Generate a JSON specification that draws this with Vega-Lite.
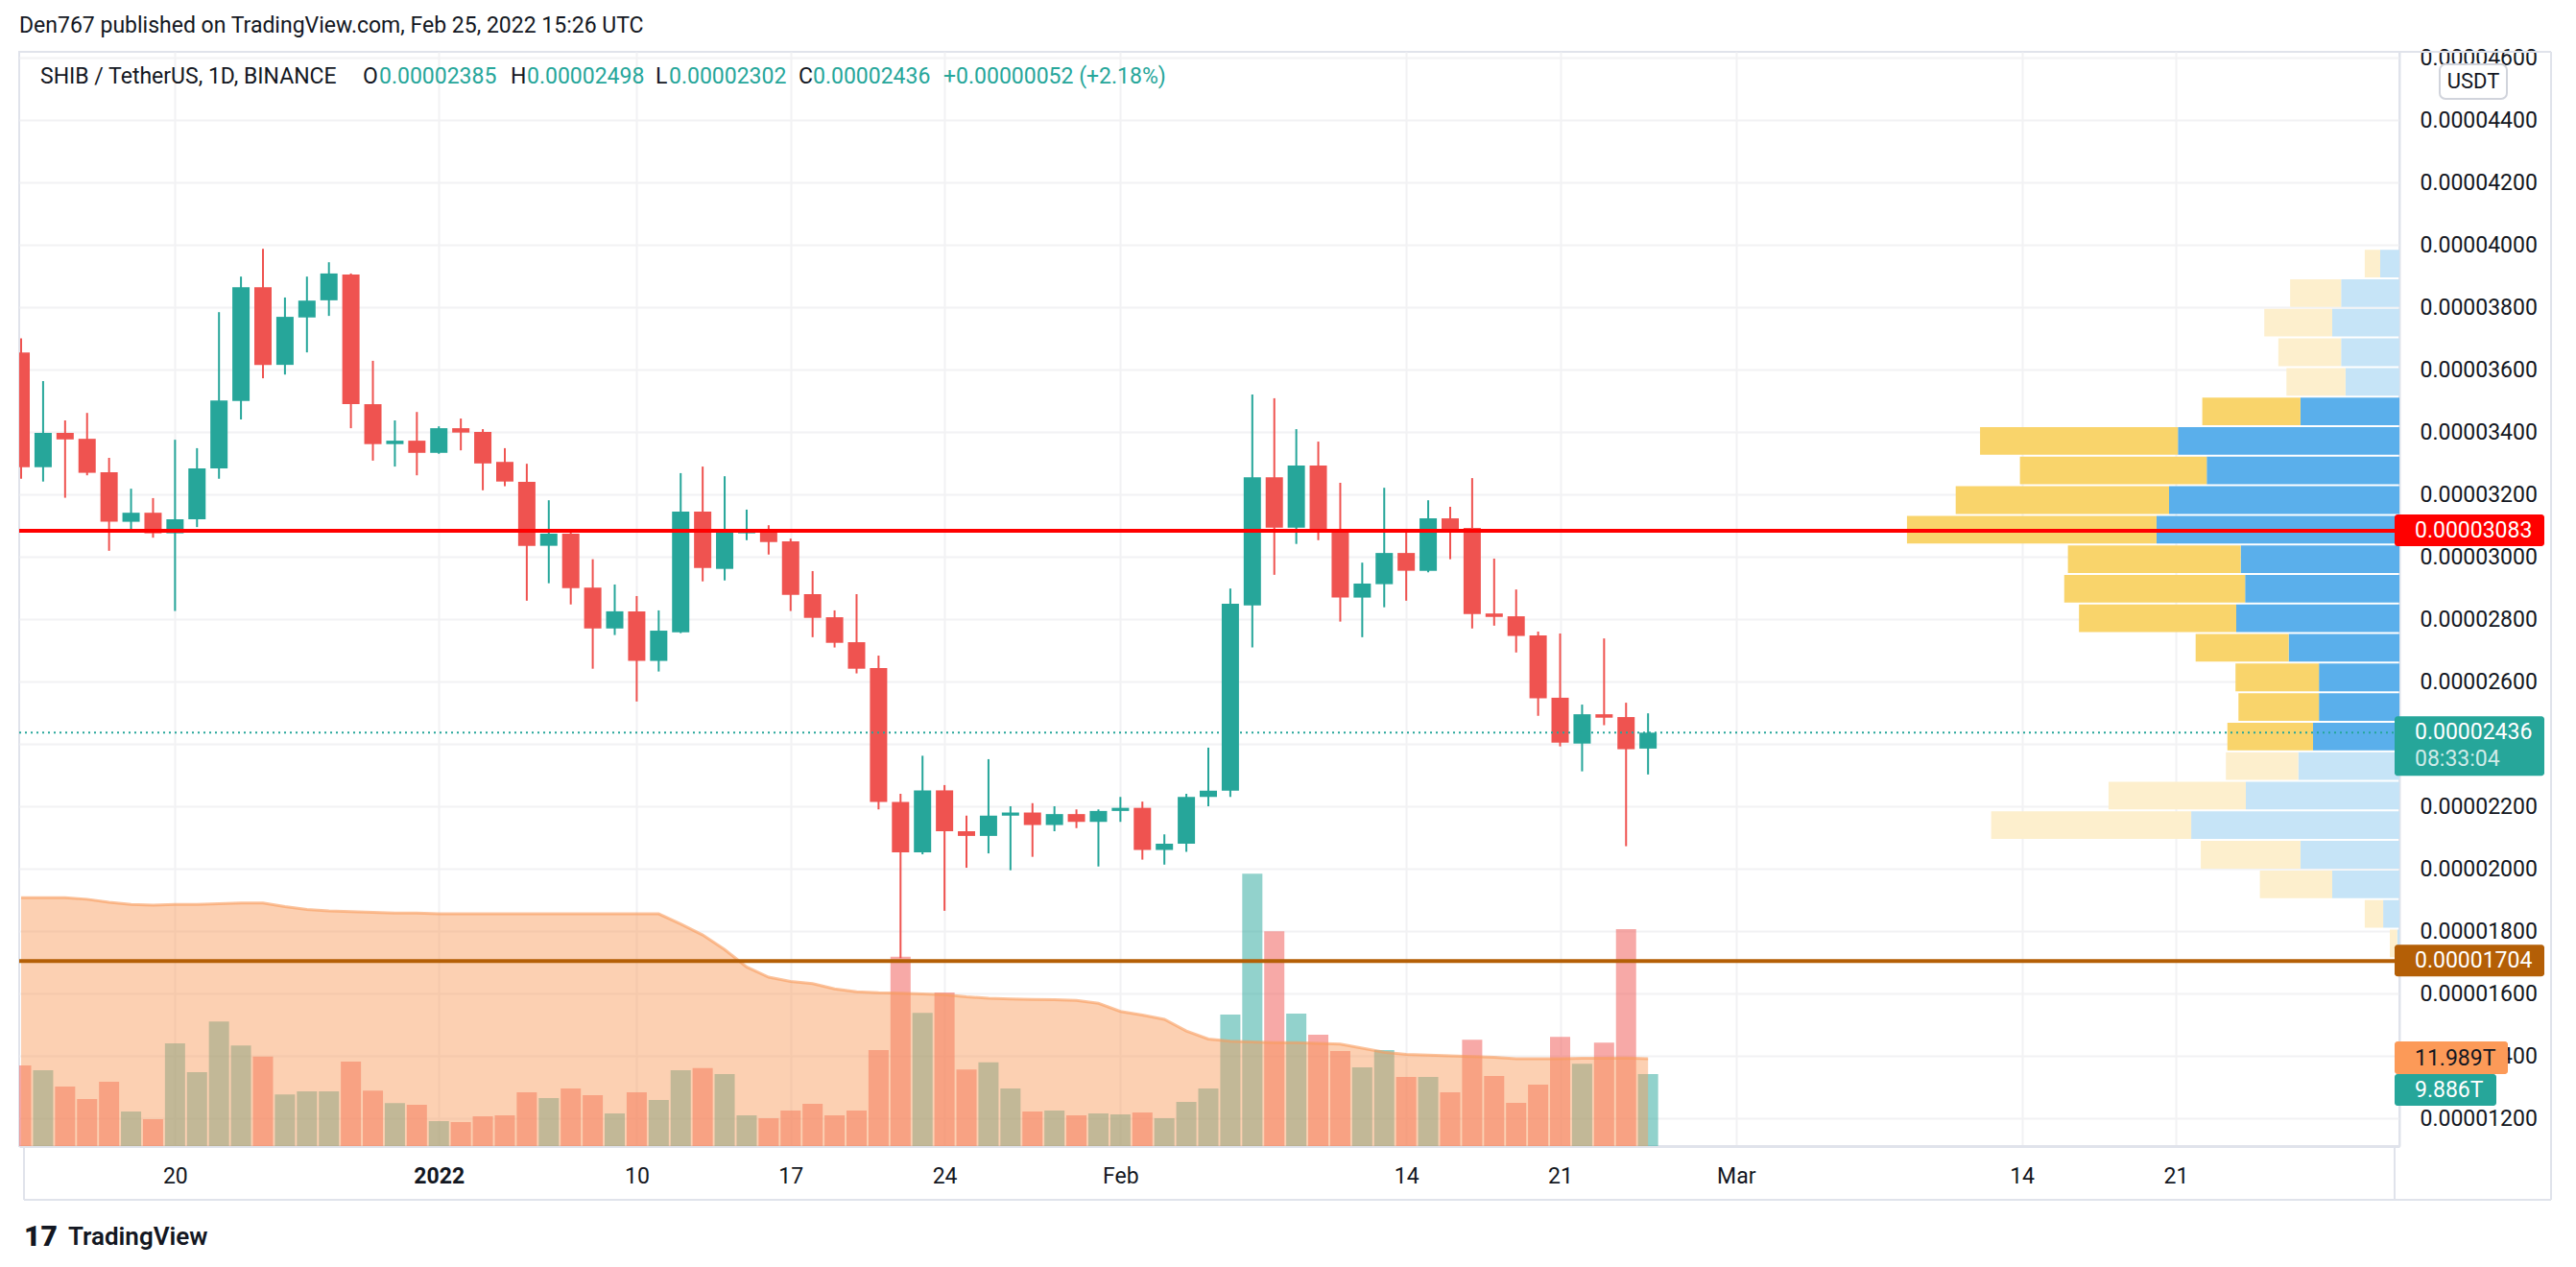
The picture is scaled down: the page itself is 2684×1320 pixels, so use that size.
{
  "$schema": "https://vega.github.io/schema/vega-lite/v6.json",
  "width": 2480,
  "height": 1140,
  "autosize": {"type": "none"},
  "padding": {"left": 20, "top": 54, "right": 184, "bottom": 126},
  "background": "white",
  "config": {
    "font": "Roboto",
    "view": {"stroke": "#e0e3eb", "strokeWidth": 2},
    "text": {"font": "Roboto"}
  },
  "title": {
    "text": "Den767 published on TradingView.com, Feb 25, 2022 15:26 UTC",
    "anchor": "start", "frame": "group", "offset": 10,
    "font": "Roboto", "fontSize": 23, "fontWeight": "normal", "color": "#131722"
  },
  "datasets": {
    "ohlcv": [
      {"date": "2021-12-13", "open": 0.00003655, "high": 0.00003700, "low": 0.00003250, "close": 0.00003287, "volume": 11.07, "volume_ma": 34.1},
      {"date": "2021-12-14", "open": 0.00003287, "high": 0.00003563, "low": 0.00003241, "close": 0.00003397, "volume": 10.4, "volume_ma": 34.1},
      {"date": "2021-12-15", "open": 0.00003397, "high": 0.00003437, "low": 0.00003189, "close": 0.00003376, "volume": 8.17, "volume_ma": 34.1},
      {"date": "2021-12-16", "open": 0.00003378, "high": 0.00003461, "low": 0.00003261, "close": 0.00003269, "volume": 6.46, "volume_ma": 33.9},
      {"date": "2021-12-17", "open": 0.00003271, "high": 0.00003317, "low": 0.00003019, "close": 0.00003112, "volume": 8.83, "volume_ma": 33.5},
      {"date": "2021-12-18", "open": 0.00003112, "high": 0.00003218, "low": 0.00003078, "close": 0.00003141, "volume": 4.75, "volume_ma": 33.2},
      {"date": "2021-12-19", "open": 0.00003141, "high": 0.00003188, "low": 0.00003061, "close": 0.00003075, "volume": 3.69, "volume_ma": 33.1},
      {"date": "2021-12-20", "open": 0.00003075, "high": 0.00003375, "low": 0.00002826, "close": 0.00003120, "volume": 14.1, "volume_ma": 33.2},
      {"date": "2021-12-21", "open": 0.00003120, "high": 0.00003348, "low": 0.00003095, "close": 0.00003283, "volume": 10.15, "volume_ma": 33.2},
      {"date": "2021-12-22", "open": 0.00003283, "high": 0.00003784, "low": 0.00003250, "close": 0.00003501, "volume": 17.1, "volume_ma": 33.3},
      {"date": "2021-12-23", "open": 0.00003499, "high": 0.00003898, "low": 0.00003440, "close": 0.00003864, "volume": 13.8, "volume_ma": 33.4},
      {"date": "2021-12-24", "open": 0.00003864, "high": 0.00003987, "low": 0.00003572, "close": 0.00003615, "volume": 12.3, "volume_ma": 33.4},
      {"date": "2021-12-25", "open": 0.00003615, "high": 0.00003831, "low": 0.00003584, "close": 0.00003769, "volume": 7.1, "volume_ma": 32.9},
      {"date": "2021-12-26", "open": 0.00003767, "high": 0.00003898, "low": 0.00003655, "close": 0.00003821, "volume": 7.5, "volume_ma": 32.5},
      {"date": "2021-12-27", "open": 0.00003822, "high": 0.00003944, "low": 0.00003772, "close": 0.00003908, "volume": 7.5, "volume_ma": 32.3},
      {"date": "2021-12-28", "open": 0.00003905, "high": 0.00003908, "low": 0.00003412, "close": 0.00003489, "volume": 11.6, "volume_ma": 32.2},
      {"date": "2021-12-29", "open": 0.00003489, "high": 0.00003628, "low": 0.00003308, "close": 0.00003361, "volume": 7.6, "volume_ma": 32.1},
      {"date": "2021-12-30", "open": 0.00003361, "high": 0.00003437, "low": 0.00003289, "close": 0.00003372, "volume": 5.9, "volume_ma": 32.0},
      {"date": "2021-12-31", "open": 0.00003372, "high": 0.00003464, "low": 0.00003261, "close": 0.00003333, "volume": 5.67, "volume_ma": 32.0},
      {"date": "2022-01-01", "open": 0.00003333, "high": 0.00003418, "low": 0.00003330, "close": 0.00003412, "volume": 3.43, "volume_ma": 31.9},
      {"date": "2022-01-02", "open": 0.00003412, "high": 0.00003443, "low": 0.00003341, "close": 0.00003398, "volume": 3.3, "volume_ma": 31.9},
      {"date": "2022-01-03", "open": 0.00003400, "high": 0.00003409, "low": 0.00003213, "close": 0.00003299, "volume": 4.09, "volume_ma": 31.9},
      {"date": "2022-01-04", "open": 0.00003304, "high": 0.00003348, "low": 0.00003226, "close": 0.00003241, "volume": 4.22, "volume_ma": 31.9},
      {"date": "2022-01-05", "open": 0.00003240, "high": 0.00003298, "low": 0.00002859, "close": 0.00003035, "volume": 7.38, "volume_ma": 31.9},
      {"date": "2022-01-06", "open": 0.00003035, "high": 0.00003181, "low": 0.00002915, "close": 0.00003074, "volume": 6.59, "volume_ma": 31.9},
      {"date": "2022-01-07", "open": 0.00003074, "high": 0.00003086, "low": 0.00002847, "close": 0.00002899, "volume": 7.9, "volume_ma": 31.9},
      {"date": "2022-01-08", "open": 0.00002901, "high": 0.00002992, "low": 0.00002641, "close": 0.00002770, "volume": 6.99, "volume_ma": 31.9},
      {"date": "2022-01-09", "open": 0.00002770, "high": 0.00002911, "low": 0.00002749, "close": 0.00002825, "volume": 4.48, "volume_ma": 31.9},
      {"date": "2022-01-10", "open": 0.00002825, "high": 0.00002874, "low": 0.00002536, "close": 0.00002666, "volume": 7.38, "volume_ma": 31.9},
      {"date": "2022-01-11", "open": 0.00002666, "high": 0.00002828, "low": 0.00002632, "close": 0.00002763, "volume": 6.33, "volume_ma": 31.9},
      {"date": "2022-01-12", "open": 0.00002758, "high": 0.00003268, "low": 0.00002755, "close": 0.00003145, "volume": 10.4, "volume_ma": 30.5},
      {"date": "2022-01-13", "open": 0.00003145, "high": 0.00003289, "low": 0.00002921, "close": 0.00002964, "volume": 10.7, "volume_ma": 29.0},
      {"date": "2022-01-14", "open": 0.00002961, "high": 0.00003258, "low": 0.00002924, "close": 0.00003077, "volume": 9.9, "volume_ma": 27.0},
      {"date": "2022-01-15", "open": 0.00003075, "high": 0.00003151, "low": 0.00003053, "close": 0.00003083, "volume": 4.22, "volume_ma": 24.6},
      {"date": "2022-01-16", "open": 0.00003083, "high": 0.00003101, "low": 0.00003007, "close": 0.00003047, "volume": 3.82, "volume_ma": 23.2},
      {"date": "2022-01-17", "open": 0.00003049, "high": 0.00003058, "low": 0.00002826, "close": 0.00002878, "volume": 4.88, "volume_ma": 22.6},
      {"date": "2022-01-18", "open": 0.00002880, "high": 0.00002954, "low": 0.00002742, "close": 0.00002804, "volume": 5.8, "volume_ma": 22.3},
      {"date": "2022-01-19", "open": 0.00002806, "high": 0.00002828, "low": 0.00002709, "close": 0.00002724, "volume": 4.22, "volume_ma": 21.6},
      {"date": "2022-01-20", "open": 0.00002726, "high": 0.00002880, "low": 0.00002626, "close": 0.00002641, "volume": 4.88, "volume_ma": 21.2},
      {"date": "2022-01-21", "open": 0.00002643, "high": 0.00002683, "low": 0.00002190, "close": 0.00002214, "volume": 13.2, "volume_ma": 21.05},
      {"date": "2022-01-22", "open": 0.00002214, "high": 0.00002240, "low": 0.00001713, "close": 0.00002052, "volume": 26.0, "volume_ma": 21.0},
      {"date": "2022-01-23", "open": 0.00002052, "high": 0.00002362, "low": 0.00002046, "close": 0.00002251, "volume": 18.3, "volume_ma": 20.9},
      {"date": "2022-01-24", "open": 0.00002251, "high": 0.00002268, "low": 0.00001865, "close": 0.00002120, "volume": 21.1, "volume_ma": 20.8},
      {"date": "2022-01-25", "open": 0.00002120, "high": 0.00002170, "low": 0.00002003, "close": 0.00002105, "volume": 10.5, "volume_ma": 20.5},
      {"date": "2022-01-26", "open": 0.00002105, "high": 0.00002351, "low": 0.00002049, "close": 0.00002170, "volume": 11.5, "volume_ma": 20.3},
      {"date": "2022-01-27", "open": 0.00002170, "high": 0.00002200, "low": 0.00001995, "close": 0.00002180, "volume": 7.9, "volume_ma": 20.2},
      {"date": "2022-01-28", "open": 0.00002180, "high": 0.00002210, "low": 0.00002038, "close": 0.00002140, "volume": 4.75, "volume_ma": 20.15},
      {"date": "2022-01-29", "open": 0.00002140, "high": 0.00002200, "low": 0.00002120, "close": 0.00002175, "volume": 4.88, "volume_ma": 20.1},
      {"date": "2022-01-30", "open": 0.00002175, "high": 0.00002190, "low": 0.00002130, "close": 0.00002150, "volume": 4.22, "volume_ma": 20.0},
      {"date": "2022-01-31", "open": 0.00002150, "high": 0.00002190, "low": 0.00002007, "close": 0.00002185, "volume": 4.48, "volume_ma": 19.6},
      {"date": "2022-02-01", "open": 0.00002185, "high": 0.00002230, "low": 0.00002150, "close": 0.00002195, "volume": 4.35, "volume_ma": 18.5},
      {"date": "2022-02-02", "open": 0.00002195, "high": 0.00002215, "low": 0.00002029, "close": 0.00002060, "volume": 4.61, "volume_ma": 18.0},
      {"date": "2022-02-03", "open": 0.00002060, "high": 0.00002110, "low": 0.00002013, "close": 0.00002080, "volume": 3.82, "volume_ma": 17.4},
      {"date": "2022-02-04", "open": 0.00002080, "high": 0.00002240, "low": 0.00002054, "close": 0.00002230, "volume": 6.06, "volume_ma": 15.8},
      {"date": "2022-02-05", "open": 0.00002230, "high": 0.00002388, "low": 0.00002200, "close": 0.00002250, "volume": 7.9, "volume_ma": 14.7},
      {"date": "2022-02-06", "open": 0.00002250, "high": 0.00002898, "low": 0.00002230, "close": 0.00002849, "volume": 18.06, "volume_ma": 14.4},
      {"date": "2022-02-07", "open": 0.00002844, "high": 0.00003520, "low": 0.00002709, "close": 0.00003255, "volume": 37.4, "volume_ma": 14.3},
      {"date": "2022-02-08", "open": 0.00003255, "high": 0.00003508, "low": 0.00002942, "close": 0.00003093, "volume": 29.5, "volume_ma": 14.2},
      {"date": "2022-02-09", "open": 0.00003093, "high": 0.00003409, "low": 0.00003041, "close": 0.00003292, "volume": 18.2, "volume_ma": 14.2},
      {"date": "2022-02-10", "open": 0.00003292, "high": 0.00003369, "low": 0.00003053, "close": 0.00003081, "volume": 15.3, "volume_ma": 14.1},
      {"date": "2022-02-11", "open": 0.00003084, "high": 0.00003237, "low": 0.00002792, "close": 0.00002869, "volume": 13.05, "volume_ma": 14.0},
      {"date": "2022-02-12", "open": 0.00002869, "high": 0.00002981, "low": 0.00002742, "close": 0.00002914, "volume": 10.8, "volume_ma": 13.45},
      {"date": "2022-02-13", "open": 0.00002912, "high": 0.00003221, "low": 0.00002838, "close": 0.00003012, "volume": 13.2, "volume_ma": 12.9},
      {"date": "2022-02-14", "open": 0.00003012, "high": 0.00003087, "low": 0.00002859, "close": 0.00002955, "volume": 9.49, "volume_ma": 12.6},
      {"date": "2022-02-15", "open": 0.00002955, "high": 0.00003181, "low": 0.00002950, "close": 0.00003123, "volume": 9.49, "volume_ma": 12.5},
      {"date": "2022-02-16", "open": 0.00003123, "high": 0.00003160, "low": 0.00002992, "close": 0.00003089, "volume": 7.38, "volume_ma": 12.4},
      {"date": "2022-02-17", "open": 0.00003092, "high": 0.00003252, "low": 0.00002770, "close": 0.00002816, "volume": 14.6, "volume_ma": 12.3},
      {"date": "2022-02-18", "open": 0.00002818, "high": 0.00002994, "low": 0.00002779, "close": 0.00002807, "volume": 9.62, "volume_ma": 12.2},
      {"date": "2022-02-19", "open": 0.00002809, "high": 0.00002895, "low": 0.00002693, "close": 0.00002746, "volume": 5.93, "volume_ma": 12.0},
      {"date": "2022-02-20", "open": 0.00002748, "high": 0.00002760, "low": 0.00002490, "close": 0.00002546, "volume": 8.44, "volume_ma": 12.0},
      {"date": "2022-02-21", "open": 0.00002548, "high": 0.00002754, "low": 0.00002392, "close": 0.00002404, "volume": 15.0, "volume_ma": 12.0},
      {"date": "2022-02-22", "open": 0.00002401, "high": 0.00002526, "low": 0.00002312, "close": 0.00002495, "volume": 11.3, "volume_ma": 12.05},
      {"date": "2022-02-23", "open": 0.00002495, "high": 0.00002738, "low": 0.00002460, "close": 0.00002484, "volume": 14.2, "volume_ma": 12.05},
      {"date": "2022-02-24", "open": 0.00002486, "high": 0.00002532, "low": 0.00002072, "close": 0.00002383, "volume": 29.8, "volume_ma": 12.1},
      {"date": "2022-02-25", "open": 0.00002385, "high": 0.00002498, "low": 0.00002302, "close": 0.00002436, "volume": 9.886, "volume_ma": 11.989}
    ],
    "profile": [
      {"low": 0.0000389225, "high": 0.00003987, "up": 2.6, "total": 4.7, "value_area": false},
      {"low": 0.000037975, "high": 0.0000389225, "up": 7.9, "total": 14.8, "value_area": false},
      {"low": 0.0000370275, "high": 0.000037975, "up": 9.1, "total": 18.3, "value_area": false},
      {"low": 0.00003608, "high": 0.0000370275, "up": 7.9, "total": 16.4, "value_area": false},
      {"low": 0.0000351325, "high": 0.00003608, "up": 7.3, "total": 15.3, "value_area": false},
      {"low": 0.000034185, "high": 0.0000351325, "up": 13.4, "total": 26.7, "value_area": true},
      {"low": 0.0000332375, "high": 0.000034185, "up": 30.0, "total": 56.8, "value_area": true},
      {"low": 0.00003229, "high": 0.0000332375, "up": 26.1, "total": 51.4, "value_area": true},
      {"low": 0.0000313425, "high": 0.00003229, "up": 31.2, "total": 60.1, "value_area": true},
      {"low": 0.000030395, "high": 0.0000313425, "up": 32.9, "total": 66.7, "value_area": true},
      {"low": 0.0000294475, "high": 0.000030395, "up": 21.5, "total": 44.9, "value_area": true},
      {"low": 0.0000285, "high": 0.0000294475, "up": 20.9, "total": 45.4, "value_area": true},
      {"low": 0.0000275525, "high": 0.0000285, "up": 22.1, "total": 43.4, "value_area": true},
      {"low": 0.000026605, "high": 0.0000275525, "up": 15.0, "total": 27.6, "value_area": true},
      {"low": 0.0000256575, "high": 0.000026605, "up": 10.9, "total": 22.2, "value_area": true},
      {"low": 0.00002471, "high": 0.0000256575, "up": 10.9, "total": 21.8, "value_area": true},
      {"low": 0.0000237625, "high": 0.00002471, "up": 11.7, "total": 23.3, "value_area": true},
      {"low": 0.000022815, "high": 0.0000237625, "up": 13.7, "total": 23.5, "value_area": false},
      {"low": 0.0000218675, "high": 0.000022815, "up": 20.8, "total": 39.4, "value_area": false},
      {"low": 0.00002092, "high": 0.0000218675, "up": 28.2, "total": 55.3, "value_area": false},
      {"low": 0.0000199725, "high": 0.00002092, "up": 13.4, "total": 26.9, "value_area": false},
      {"low": 0.000019025, "high": 0.0000199725, "up": 9.1, "total": 18.9, "value_area": false},
      {"low": 0.0000180775, "high": 0.000019025, "up": 2.2, "total": 4.7, "value_area": false},
      {"low": 0.00001713, "high": 0.0000180775, "up": 0.3, "total": 1.3, "value_area": false}
    ],
    "levels": [
      {"level": "resistance", "price": 0.00003083},
      {"level": "support", "price": 0.00001704},
      {"level": "last", "price": 0.00002436, "countdown": "08:33:04"}
    ],
    "volume_levels": [
      {"series": "Volume MA", "volume": 11.989, "label": "11.989T"},
      {"series": "Volume", "volume": 9.886, "label": "9.886T"}
    ],
    "legend": [
      {"pair": "SHIB / TetherUS, 1D, BINANCE", "open": 0.00002385, "high": 0.00002498, "low": 0.00002302, "close": 0.00002436, "change": "+0.00000052 (+2.18%)"}
    ],
    "badge": [{"currency": "USDT"}],
    "brand": [{"name": "TradingView"}],
    "frame": [{"part": "pane border"}]
  },
  "resolve": {"scale": {"x": "independent", "y": "independent"}},
  "layer": [
    {
      "data": {"name": "profile"},
      "layer": [
        {
          "mark": {"type": "rect", "yOffset": 1, "y2Offset": -1},
          "encoding": {
            "x": {"field": "up", "type": "quantitative", "scale": {"domain": [0, 322.4], "reverse": true, "nice": false, "zero": false}, "axis": null},
            "x2": {"datum": 0},
            "y": {"field": "high", "type": "quantitative", "scale": {"domain": [0.000011108, 0.000046185], "nice": false, "zero": false}, "axis": null},
            "y2": {"field": "low"},
            "color": {"condition": {"test": "datum.value_area", "value": "#5aafeb"}, "value": "#c6e4f7"}
          }
        },
        {
          "mark": {"type": "rect", "yOffset": 1, "y2Offset": -1},
          "encoding": {
            "x": {"field": "total", "type": "quantitative", "axis": null},
            "x2": {"field": "up"},
            "y": {"field": "high", "type": "quantitative", "axis": null},
            "y2": {"field": "low"},
            "color": {"condition": {"test": "datum.value_area", "value": "#f9d46b"}, "value": "#fdefcd"}
          }
        }
      ]
    },
    {
      "layer": [
        {
          "data": {"name": "ohlcv"},
          "mark": {"type": "bar", "width": 21, "clip": true},
          "encoding": {
            "x": {"field": "date", "type": "temporal", "scale": {"type": "utc", "domain": [{"year": 2021, "month": 12, "date": 13, "hours": 3, "minutes": 7, "seconds": 49, "utc": true}, {"year": 2022, "month": 3, "date": 30, "hours": 22, "minutes": 57, "seconds": 23, "utc": true}], "nice": false}, "axis": null},
            "y": {"field": "volume", "type": "quantitative", "scale": {"domain": [0, 150.3], "nice": false}, "axis": null},
            "color": {"condition": {"test": "datum.close >= datum.open", "value": "rgba(38,166,154,0.5)"}, "value": "rgba(239,83,80,0.5)"}
          }
        },
        {
          "data": {"name": "ohlcv"},
          "mark": {"type": "area", "clip": true, "fill": "#f99b5b", "fillOpacity": 0.47},
          "encoding": {
            "x": {"field": "date", "type": "temporal", "axis": null},
            "y": {"field": "volume_ma", "type": "quantitative", "axis": null}
          }
        },
        {
          "data": {"name": "ohlcv"},
          "mark": {"type": "line", "clip": true, "stroke": "#f99b5b", "strokeOpacity": 0.6, "strokeWidth": 3},
          "encoding": {
            "x": {"field": "date", "type": "temporal", "axis": null},
            "y": {"field": "volume_ma", "type": "quantitative", "axis": null}
          }
        },
        {
          "data": {"name": "volume_levels"},
          "transform": [{"filter": "datum.series == 'Volume MA'"}],
          "mark": {"type": "rect", "yOffset": -18, "y2Offset": 16, "x2Offset": 118, "cornerRadius": 3, "color": "#fc9a58"},
          "encoding": {
            "x": {"datum": {"year": 2022, "month": 3, "date": 30, "hours": 22, "minutes": 57, "seconds": 23, "utc": true}, "type": "temporal", "axis": null},
            "x2": {"datum": {"year": 2022, "month": 3, "date": 30, "hours": 22, "minutes": 57, "seconds": 23, "utc": true}},
            "y": {"field": "volume", "type": "quantitative", "axis": null},
            "y2": {"field": "volume"}
          }
        },
        {
          "data": {"name": "volume_levels"},
          "transform": [{"filter": "datum.series == 'Volume MA'"}],
          "mark": {"type": "text", "align": "left", "baseline": "middle", "dx": 21, "fontSize": 23, "color": "#131722"},
          "encoding": {
            "x": {"datum": {"year": 2022, "month": 3, "date": 30, "hours": 22, "minutes": 57, "seconds": 23, "utc": true}, "type": "temporal", "axis": null},
            "y": {"field": "volume", "type": "quantitative", "axis": null},
            "text": {"field": "label"}
          }
        },
        {
          "data": {"name": "volume_levels"},
          "transform": [{"filter": "datum.series == 'Volume'"}],
          "mark": {"type": "rect", "yOffset": 0, "y2Offset": 33, "x2Offset": 106, "cornerRadius": 3, "color": "#26a69a"},
          "encoding": {
            "x": {"datum": {"year": 2022, "month": 3, "date": 30, "hours": 22, "minutes": 57, "seconds": 23, "utc": true}, "type": "temporal", "axis": null},
            "x2": {"datum": {"year": 2022, "month": 3, "date": 30, "hours": 22, "minutes": 57, "seconds": 23, "utc": true}},
            "y": {"field": "volume", "type": "quantitative", "axis": null},
            "y2": {"field": "volume"}
          }
        },
        {
          "data": {"name": "volume_levels"},
          "transform": [{"filter": "datum.series == 'Volume'"}],
          "mark": {"type": "text", "align": "left", "baseline": "middle", "dx": 21, "dy": 17, "fontSize": 23, "color": "white"},
          "encoding": {
            "x": {"datum": {"year": 2022, "month": 3, "date": 30, "hours": 22, "minutes": 57, "seconds": 23, "utc": true}, "type": "temporal", "axis": null},
            "y": {"field": "volume", "type": "quantitative", "axis": null},
            "text": {"field": "label"}
          }
        }
      ]
    },
    {
      "layer": [
        {
          "data": {"name": "ohlcv"},
          "mark": {"type": "rule", "strokeWidth": 2, "clip": true},
          "encoding": {
            "x": {
              "field": "date", "type": "temporal",
              "scale": {"type": "utc", "domain": [{"year": 2021, "month": 12, "date": 13, "hours": 3, "minutes": 7, "seconds": 49, "utc": true}, {"year": 2022, "month": 3, "date": 30, "hours": 22, "minutes": 57, "seconds": 23, "utc": true}], "nice": false},
              "axis": {
                "orient": "bottom", "title": null,
                "values": [
                  {"year": 2021, "month": 12, "date": 20, "utc": true},
                  {"year": 2022, "month": 1, "date": 1, "utc": true},
                  {"year": 2022, "month": 1, "date": 10, "utc": true},
                  {"year": 2022, "month": 1, "date": 17, "utc": true},
                  {"year": 2022, "month": 1, "date": 24, "utc": true},
                  {"year": 2022, "month": 2, "date": 1, "utc": true},
                  {"year": 2022, "month": 2, "date": 14, "utc": true},
                  {"year": 2022, "month": 2, "date": 21, "utc": true},
                  {"year": 2022, "month": 3, "date": 1, "utc": true},
                  {"year": 2022, "month": 3, "date": 14, "utc": true},
                  {"year": 2022, "month": 3, "date": 21, "utc": true}
                ],
                "labelExpr": "utcdate(datum.value) == 1 ? (utcmonth(datum.value) == 0 ? utcFormat(datum.value, '%Y') : utcFormat(datum.value, '%b')) : utcFormat(datum.value, '%-d')",
                "labelFontWeight": {"condition": {"test": "utcmonth(datum.value) == 0 && utcdate(datum.value) == 1", "value": "bold"}, "value": "normal"},
                "labelFont": "Roboto", "labelFontSize": 23, "labelColor": "#131722", "labelPadding": 20,
                "ticks": false, "domainColor": "#e0e3eb", "domainWidth": 3,
                "grid": true, "gridColor": "#f2f2f4", "gridWidth": 2,
                "labelOverlap": false, "labelFlush": false
              }
            },
            "y": {
              "field": "low", "type": "quantitative",
              "scale": {"domain": [0.000011108, 0.000046185], "nice": false, "zero": false},
              "axis": {
                "orient": "right", "title": null,
                "values": [0.000012, 0.000014, 0.000016, 0.000018, 0.00002, 0.000022, 0.000024, 0.000026, 0.000028, 0.00003, 0.000032, 0.000034, 0.000036, 0.000038, 0.00004, 0.000042, 0.000044, 0.000046],
                "format": ".8f",
                "labelExpr": "abs(datum.value - 0.000024) < 1e-10 ? '' : datum.label",
                "labelFont": "Roboto", "labelFontSize": 23, "labelColor": "#131722",
                "labelPadding": 21, "labelAlign": "left", "labelBaseline": "middle",
                "ticks": false, "domainColor": "#e0e3eb", "domainWidth": 2,
                "grid": true, "gridColor": "#f2f2f4", "gridWidth": 2,
                "labelOverlap": false, "labelFlush": false
              }
            },
            "y2": {"field": "high"},
            "color": {"condition": {"test": "datum.close >= datum.open", "value": "#26a69a"}, "value": "#ef5350"}
          }
        },
        {
          "data": {"name": "ohlcv"},
          "mark": {"type": "bar", "width": 18, "clip": true},
          "encoding": {
            "x": {"field": "date", "type": "temporal"},
            "y": {"field": "open", "type": "quantitative"},
            "y2": {"field": "close"},
            "color": {"condition": {"test": "datum.close >= datum.open", "value": "#26a69a"}, "value": "#ef5350"}
          }
        },
        {
          "data": {"name": "levels"},
          "transform": [{"filter": "datum.level != 'last'"}],
          "mark": {"type": "rule", "strokeWidth": 4},
          "encoding": {
            "y": {"field": "price", "type": "quantitative"},
            "color": {"condition": {"test": "datum.level == 'resistance'", "value": "#ff0000"}, "value": "#b45f06"}
          }
        },
        {
          "data": {"name": "levels"},
          "transform": [{"filter": "datum.level == 'last'"}],
          "mark": {"type": "rule", "strokeWidth": 2, "strokeDash": [2, 4], "color": "#26a69a"},
          "encoding": {
            "y": {"field": "price", "type": "quantitative"}
          }
        },
        {
          "data": {"name": "levels"},
          "transform": [{"filter": "datum.level != 'last'"}],
          "mark": {"type": "rect", "yOffset": -17, "y2Offset": 16, "x2Offset": 156, "cornerRadius": 3},
          "encoding": {
            "x": {"datum": {"year": 2022, "month": 3, "date": 30, "hours": 22, "minutes": 57, "seconds": 23, "utc": true}, "type": "temporal"},
            "x2": {"datum": {"year": 2022, "month": 3, "date": 30, "hours": 22, "minutes": 57, "seconds": 23, "utc": true}},
            "y": {"field": "price", "type": "quantitative"},
            "y2": {"field": "price"},
            "color": {"condition": {"test": "datum.level == 'resistance'", "value": "#ff0000"}, "value": "#b45f06"}
          }
        },
        {
          "data": {"name": "levels"},
          "transform": [{"filter": "datum.level == 'last'"}],
          "mark": {"type": "rect", "yOffset": -17, "y2Offset": 45, "x2Offset": 156, "cornerRadius": 3, "color": "#26a69a"},
          "encoding": {
            "x": {"datum": {"year": 2022, "month": 3, "date": 30, "hours": 22, "minutes": 57, "seconds": 23, "utc": true}, "type": "temporal"},
            "x2": {"datum": {"year": 2022, "month": 3, "date": 30, "hours": 22, "minutes": 57, "seconds": 23, "utc": true}},
            "y": {"field": "price", "type": "quantitative"},
            "y2": {"field": "price"}
          }
        },
        {
          "data": {"name": "levels"},
          "mark": {"type": "text", "align": "left", "baseline": "middle", "dx": 21, "fontSize": 23, "color": "white"},
          "encoding": {
            "x": {"datum": {"year": 2022, "month": 3, "date": 30, "hours": 22, "minutes": 57, "seconds": 23, "utc": true}, "type": "temporal"},
            "y": {"field": "price", "type": "quantitative"},
            "text": {"field": "price", "format": ".8f"}
          }
        },
        {
          "data": {"name": "levels"},
          "transform": [{"filter": "datum.level == 'last'"}],
          "mark": {"type": "text", "align": "left", "baseline": "middle", "dx": 21, "dy": 28, "fontSize": 23, "color": "rgba(255,255,255,0.78)"},
          "encoding": {
            "x": {"datum": {"year": 2022, "month": 3, "date": 30, "hours": 22, "minutes": 57, "seconds": 23, "utc": true}, "type": "temporal"},
            "y": {"field": "price", "type": "quantitative"},
            "text": {"field": "countdown"}
          }
        },
        {
          "data": {"name": "badge"},
          "mark": {"type": "rect", "xOffset": 47, "x2Offset": 117, "yOffset": -18, "y2Offset": 18, "cornerRadius": 6, "fill": "white", "stroke": "#d1d4dc", "strokeWidth": 2},
          "encoding": {
            "x": {"datum": {"year": 2022, "month": 3, "date": 30, "hours": 22, "minutes": 57, "seconds": 23, "utc": true}, "type": "temporal"},
            "x2": {"datum": {"year": 2022, "month": 3, "date": 30, "hours": 22, "minutes": 57, "seconds": 23, "utc": true}},
            "y": {"datum": 0.0000452308, "type": "quantitative"},
            "y2": {"datum": 0.0000452308}
          }
        },
        {
          "data": {"name": "badge"},
          "mark": {"type": "text", "align": "center", "baseline": "middle", "dx": 82, "fontSize": 22, "color": "#131722"},
          "encoding": {
            "x": {"datum": {"year": 2022, "month": 3, "date": 30, "hours": 22, "minutes": 57, "seconds": 23, "utc": true}, "type": "temporal"},
            "y": {"datum": 0.0000452308, "type": "quantitative"},
            "text": {"field": "currency"}
          }
        },
        {
          "data": {"name": "frame"},
          "mark": {"type": "rule", "x2Offset": 163, "color": "#e0e3eb", "strokeWidth": 2},
          "encoding": {
            "x": {"datum": {"year": 2022, "month": 3, "date": 30, "hours": 22, "minutes": 57, "seconds": 23, "utc": true}, "type": "temporal"},
            "x2": {"datum": {"year": 2022, "month": 3, "date": 30, "hours": 22, "minutes": 57, "seconds": 23, "utc": true}},
            "y": {"datum": 0.000046185, "type": "quantitative"}
          }
        },
        {
          "data": {"name": "frame"},
          "mark": {"type": "rule", "xOffset": 163, "y2Offset": 56, "color": "#e0e3eb", "strokeWidth": 2},
          "encoding": {
            "x": {"datum": {"year": 2022, "month": 3, "date": 30, "hours": 22, "minutes": 57, "seconds": 23, "utc": true}, "type": "temporal"},
            "y": {"datum": 0.000046185, "type": "quantitative"},
            "y2": {"datum": 0.000011108}
          }
        },
        {
          "data": {"name": "frame"},
          "mark": {"type": "rule", "yOffset": 56, "x2Offset": 163, "color": "#e0e3eb", "strokeWidth": 2},
          "encoding": {
            "x": {"datum": {"year": 2021, "month": 12, "date": 13, "hours": 3, "minutes": 7, "seconds": 49, "utc": true}, "type": "temporal"},
            "x2": {"datum": {"year": 2022, "month": 3, "date": 30, "hours": 22, "minutes": 57, "seconds": 23, "utc": true}},
            "y": {"datum": 0.000011108, "type": "quantitative"}
          }
        },
        {
          "data": {"name": "frame"},
          "mark": {"type": "rule", "y2Offset": 56, "color": "#e0e3eb", "strokeWidth": 2},
          "encoding": {
            "x": {"datum": {"year": 2021, "month": 12, "date": 13, "hours": 3, "minutes": 7, "seconds": 49, "utc": true}, "type": "temporal"},
            "y": {"datum": 0.000011108, "type": "quantitative"},
            "y2": {"datum": 0.000011108}
          }
        },
        {
          "data": {"name": "frame"},
          "mark": {"type": "rule", "y2Offset": 56, "color": "#e0e3eb", "strokeWidth": 2},
          "encoding": {
            "x": {"datum": {"year": 2022, "month": 3, "date": 30, "hours": 22, "minutes": 57, "seconds": 23, "utc": true}, "type": "temporal"},
            "y": {"datum": 0.000011108, "type": "quantitative"},
            "y2": {"datum": 0.000011108}
          }
        },
        {
          "data": {"name": "legend"},
          "layer": [
            {"mark": {"type": "text", "align": "left", "baseline": "middle", "dx": 17, "fontSize": 23, "color": "#131722"}, "encoding": {"text": {"field": "pair"}}},
            {"mark": {"type": "text", "align": "left", "baseline": "middle", "dx": 353, "fontSize": 23, "color": "#131722", "text": "O"}, "encoding": {}},
            {"mark": {"type": "text", "align": "left", "baseline": "middle", "dx": 370, "fontSize": 23, "color": "#26a69a"}, "encoding": {"text": {"field": "open", "format": ".8f"}}},
            {"mark": {"type": "text", "align": "left", "baseline": "middle", "dx": 507, "fontSize": 23, "color": "#131722", "text": "H"}, "encoding": {}},
            {"mark": {"type": "text", "align": "left", "baseline": "middle", "dx": 524, "fontSize": 23, "color": "#26a69a"}, "encoding": {"text": {"field": "high", "format": ".8f"}}},
            {"mark": {"type": "text", "align": "left", "baseline": "middle", "dx": 658, "fontSize": 23, "color": "#131722", "text": "L"}, "encoding": {}},
            {"mark": {"type": "text", "align": "left", "baseline": "middle", "dx": 672, "fontSize": 23, "color": "#26a69a"}, "encoding": {"text": {"field": "low", "format": ".8f"}}},
            {"mark": {"type": "text", "align": "left", "baseline": "middle", "dx": 807, "fontSize": 23, "color": "#131722", "text": "C"}, "encoding": {}},
            {"mark": {"type": "text", "align": "left", "baseline": "middle", "dx": 822, "fontSize": 23, "color": "#26a69a"}, "encoding": {"text": {"field": "close", "format": ".8f"}}},
            {"mark": {"type": "text", "align": "left", "baseline": "middle", "dx": 958, "fontSize": 23, "color": "#26a69a"}, "encoding": {"text": {"field": "change"}}}
          ],
          "encoding": {
            "x": {"datum": {"year": 2021, "month": 12, "date": 13, "hours": 3, "minutes": 7, "seconds": 49, "utc": true}, "type": "temporal"},
            "y": {"datum": 0.0000453846, "type": "quantitative"}
          }
        },
        {
          "data": {"name": "brand"},
          "layer": [
            {"mark": {"type": "text", "align": "left", "baseline": "middle", "dx": 0, "fontSize": 30, "fontWeight": 900, "color": "#131722", "text": "17"}, "encoding": {}},
            {"mark": {"type": "text", "align": "left", "baseline": "middle", "dx": 46, "fontSize": 26, "fontWeight": 600, "color": "#131722"}, "encoding": {"text": {"field": "name"}}}
          ],
          "encoding": {
            "x": {"datum": {"year": 2021, "month": 12, "date": 13, "hours": 3, "minutes": 7, "seconds": 49, "utc": true}, "type": "temporal"},
            "y": {"datum": 0.0000082, "type": "quantitative"}
          }
        }
      ]
    }
  ]
}
